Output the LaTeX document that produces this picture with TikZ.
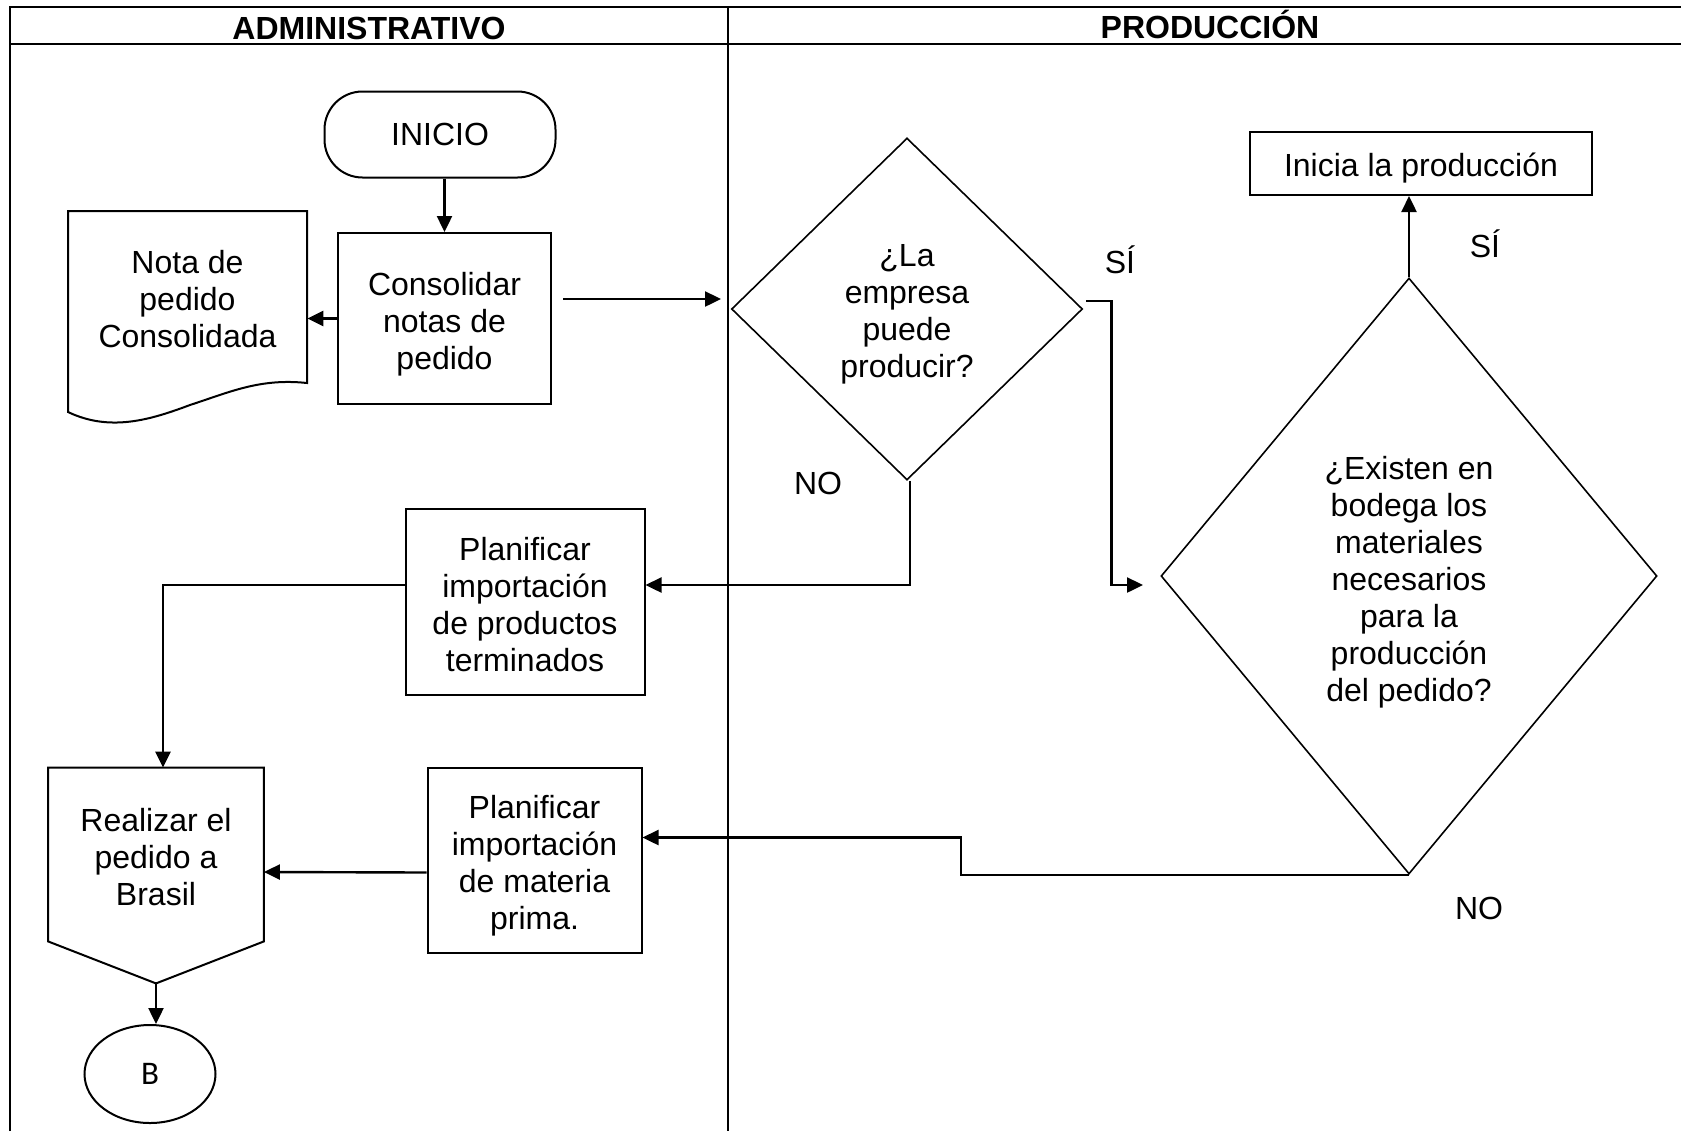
\documentclass[tikz,border=0pt]{standalone}
\usepackage{fontspec}
\setmainfont{Liberation Sans}
\newfontfamily\calibrifont{Carlito}
\usetikzlibrary{arrows.meta,shapes.geometric,calc}
% a strut on the first line of a block lowers the whole block a little
\newcommand\dropto[1]{\rule{0pt}{#1}}
\begin{document}
\def\pxu{0.5pt}
\begin{tikzpicture}[x=0.5pt,y=-0.5pt,
  txt/.style={font=\fontsize{16}{18.5}\selectfont, align=center, inner sep=0pt},
  procbox/.style={txt, draw, line width=1pt, rectangle},
  decision/.style={txt, draw, line width=0.8pt, diamond},
  outline/.style={draw, line width=1pt, line join=miter},
  arr/.style={line width=1.2pt, -{Triangle[length=8pt,width=7.5pt]}},
  lane/.style={line width=1.1pt},
  lanetitle/.style={font=\bfseries\fontsize{16}{18}\selectfont, inner sep=0pt, anchor=base},
  lbl/.style={font=\fontsize{16}{18}\selectfont, inner sep=0pt, anchor=base}]
\useasboundingbox (0,0) rectangle (1681,1131);

% swimlane frame
\draw[lane] (10,1131) -- (10,7) -- (1681,7);
\draw[lane] (10,44) -- (1681,44);
\draw[lane] (728,7) -- (728,1131);
\node[lanetitle] (hadm) at (369,39) {ADMINISTRATIVO};
\node[lanetitle] (hprod) at (1210,38) {PRODUCCIÓN};

% administrative lane
\node[procbox, rounded corners=19pt, minimum width=231*\pxu, minimum height=86*\pxu] (ini) at (440,134.5) {INICIO};
\node[procbox, minimum width=213*\pxu, minimum height=171*\pxu] (cons) at (444.5,318.5) {\dropto{17.1pt}Consolidar\\notas de\\pedido};
\node[txt, minimum width=239*\pxu, minimum height=176*\pxu] (nota) at (187.5,299) {Nota de\\pedido\\Consolidada};
\draw[outline] (68,211) -- (307,211) -- (307,383)
  .. controls (260,378) and (230,392) .. (190,405)
  .. controls (150,420) and (110,432) .. (68,412) -- cycle;

\node[procbox, minimum width=239*\pxu, minimum height=186*\pxu] (plan1) at (525,602) {\dropto{13.9pt}Planificar\\importación\\de productos\\terminados};
\node[procbox, minimum width=214*\pxu, minimum height=185*\pxu] (plan2) at (534.5,860.5) {\dropto{17.1pt}Planificar\\importación\\de materia\\prima.};

\node[txt, minimum width=215*\pxu, minimum height=173*\pxu] (real) at (156,854.5) {\dropto{13.9pt}Realizar el\\pedido a\\Brasil};
\draw[outline] (real.north west) -- (real.north east) -- (real.south east)
  -- ($(real.south)+(0,42)$) coordinate (realtip) -- (real.south west) -- cycle;

\node[draw, ellipse, line width=1pt, minimum width=131*\pxu, minimum height=98*\pxu, inner sep=0pt,
  font=\calibrifont\fontsize{16.5}{18}\selectfont] (b) at (150,1074) {B};

% production lane
\node[decision, minimum width=351*\pxu, minimum height=342*\pxu] (d1) at (907,309) {\dropto{16pt}¿La\\empresa\\puede\\producir?};
\node[decision, minimum width=496*\pxu, minimum height=596*\pxu] (d2) at (1409,576) {\dropto{17.7pt}¿Existen en\\bodega los\\materiales\\necesarios\\para la\\producción\\del pedido?};
\node[procbox, minimum width=342*\pxu, minimum height=63*\pxu] (prod) at (1421,163.5) {\dropto{16.2pt}Inicia la producción};

% branch labels
\node[lbl] (si1) at (1120,273) {SÍ};
\node[lbl] (no1) at (818,494) {NO};
\node[lbl] (si2) at (1485,257) {SÍ};
\node[lbl] (no2) at (1479,919) {NO};

% connectors
\coordinate (toprod) at (563,299);
\coordinate (atd1) at (721,299);
\coordinate (atd2) at (1143,585);
\draw[arr] (ini.south -| cons.north) -- (cons.north);
\draw[arr] (cons.west) -- (cons.west -| nota.east);
\draw[arr] (toprod) -- (atd1);
\draw[arr] ($(d1.east)+(3,-8)$) -- ++(25,0) |- (atd2);
\draw[arr] ($(d1.south)+(3,0)$) |- ($(plan1.east)+(0,-17)$);
\draw[arr] ($(plan1.west)+(0,-17)$) -| ($(real.north)+(7,0)$);
\draw[arr] (d2.north) -- (d2.north |- prod.south);
\draw[arr] (d2.south) -- ++(-448,0) |- ($(plan2.east)+(0,-23)$);
\draw[arr] ($(plan2.west)+(0,12)$) -- ($(real.east)+(0,17.5)$);
\draw[arr] (realtip) -- (realtip |- b.north);
\end{tikzpicture}
\end{document}
